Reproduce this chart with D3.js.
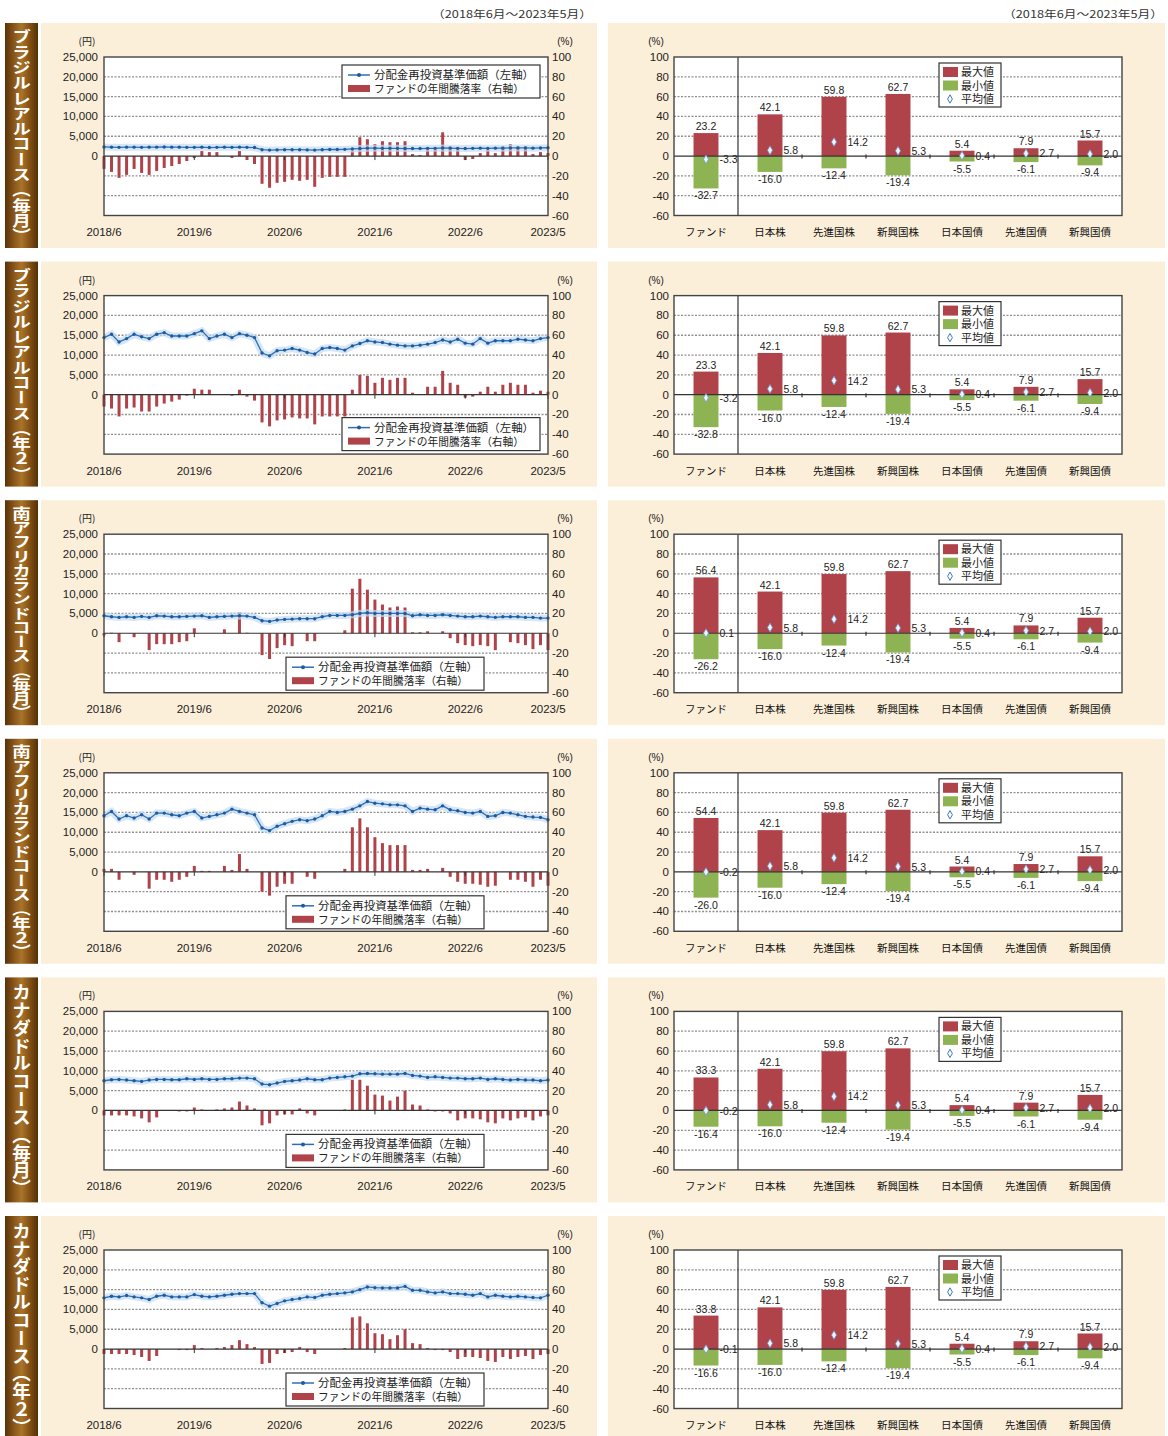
<!DOCTYPE html>
<html><head><meta charset="utf-8">
<script src="https://cdn.jsdelivr.net/npm/d3@7"></script>
<style>
html,body{margin:0;padding:0;background:#fff;}
svg{display:block;font-family:"Liberation Sans","Noto Sans CJK JP",sans-serif;}
</style></head><body>
<svg id="c" width="1168" height="1436"></svg>
<script>
// ---------- data ----------
const periodNote = "（2018年6月～2023年5月）";
const courseNames = ["ブラジルレアルコース（毎月）","ブラジルレアルコース（年２）","南アフリカランドコース（毎月）","南アフリカランドコース（年２）","カナダドルコース（毎月）","カナダドルコース（年２）"];
const xTickLabels = ["2018/6","2019/6","2020/6","2021/6","2022/6","2023/5"];
const yenTicks = [0,5000,10000,15000,20000,25000];
const pctTicks = [-60,-40,-20,0,20,40,60,80,100];
const legendNav = "分配金再投資基準価額（左軸）";
const legendRet = "ファンドの年間騰落率（右軸）";
const legendStats = ["最大値","最小値","平均値"];

const navBrlM = [2300,2250,2200,2250,2250,2200,2250,2250,2300,2250,2250,2200,2200,2250,2150,2200,2250,2200,2250,2200,2150,
 1600,1500,1550,1600,1600,1600,1550,1500,1600,1650,1650,1700,
 1800,1900,2000,2000,1950,1950,1950,1900,1900,1900,1950,1950,2050,2000,1950,1900,1950,2000,1950,2000,2000,2050,2050,2050,2000,2050,2100];
const navBrl2 = [14400,15250,13300,14150,15250,14600,14150,15250,15650,14800,14800,14800,15400,16100,14150,14800,15250,14400,15400,15000,14400,
 10500,9800,11100,11250,11650,11250,10650,10250,11650,11900,11650,11250,
 12300,12900,13600,13300,13150,12750,12500,12300,12300,12500,12750,13150,13800,13300,14000,13000,12750,14150,13000,13600,13600,13600,14000,13800,13600,14150,14400];
const navZarM = [4420,4170,4000,4170,4000,4250,4000,4420,4330,4170,4170,4250,4330,4420,4000,4170,4250,4330,4420,4330,4000,
 3170,3000,3330,3500,3580,3670,3670,3670,4170,4500,4500,4500,
 4670,5000,5170,5000,5000,5000,5000,5000,4420,4670,4500,4500,4670,4500,4330,4170,4170,4330,4170,4000,4170,4170,4170,4000,4000,3830,3830];
const navZar2 = [14160,15250,13330,14160,13580,14410,13330,14830,14830,14410,14160,14830,15250,13580,14000,14410,14830,15830,15250,14830,14410,
 11080,10410,11500,12160,12750,13160,12910,13330,14160,15250,15000,15250,
 15830,16660,17740,17330,17160,16910,16910,16660,15250,16080,15830,15660,16660,15660,15410,15000,14830,15250,14000,14160,15000,14830,14410,14000,13830,13740,13160];
const navCadM = [7500,7750,7830,7670,7500,7330,7670,7830,7830,7750,7750,8000,7830,8000,7830,7830,8000,8000,8170,8170,8000,
 6670,6500,6920,7330,7500,7670,8000,7750,7750,8170,8330,8500,
 8670,9250,9330,9250,9170,9170,9170,9330,8830,8670,8330,8500,8330,8170,8170,8000,8000,8170,7830,8000,7830,7670,7830,7670,7670,7500,7670];
const navCad2 = [12920,13330,13170,13500,13170,12920,12500,13330,13580,13170,13170,13170,13750,13330,13170,13330,13580,13830,14000,14000,14000,
 11670,10830,11500,12170,12500,12750,13170,13000,13580,13830,14000,14170,
 14420,15000,15670,15500,15420,15420,15420,15830,14830,14830,14420,14170,14420,14000,14000,13830,13580,14000,13170,13580,13330,13170,13330,13170,13000,12920,13580];

const retBrlM = [-13,-16,-22,-19,-13,-17,-19,-15,-12,-10,-8,-5,
 -2,5,4,4,0,-2,5,-4,-8,
 -28,-32,-27,-26,-24,-25,-24,-31,-22,-21,-21,-21,
 5,19,17,12,15,14,14,15,2,1,7,8,24,
 10,9,-4,-3,3,8,3,10,12,10,10,2,4,3];
const retBrl2 = [-12,-14,-22,-14,-13,-17,-17,-12,-9,-7,-5,-1,
 6,5,5,0,0,-1,5,-2,-6,
 -28,-32,-26,-25,-23,-24,-24,-30,-22,-22,-22,-22,
 5,20,19,12,17,15,17,17,2,0,8,8,24,
 12,10,-3,-2,3,8,3,10,12,10,10,2,4,3];
const retZarM = [-2,0.5,-9,0,-4,0,-17,-11,-11,-11,-9,-8,
 5,0,0,0,4,0,21,0.5,0,
 -22,-26,-15,-12,-13,0,-8,-8,0,0,0,3,
 45,55,44,34,29,26,27,26,1,1,2,0,2,
 -5,-10,-12,-13,-12,-13,-17,0,-9,-10,-12,-16,-12,-17];
const retZar2 = [3,3,-8,0,-3,0,-17,-8,-8,-10,-8,-5,
 6,1,1,0,6,2,18,3,0,
 -20,-24,-15,-12,-12,0,-5,-7,0,0,0,3,
 45,54,45,35,29,27,27,27,2,2,3,0,4,
 -5,-10,-12,-12,-13,-15,-14,0,-8,-8,-10,-15,-8,-14];
const retCadM = [-5,-5,-5,-5,-6,-8,-12,-7,0,0,-1,-1,
 3,1,0,1,2,3,9,5,2,
 -15,-13,-5,-4,-4,2,-3,-5,0,0,0,1,
 31,31,25,16,15,10,14,20,6,5,1,-1,-1,
 -3,-10,-8,-8,-9,-12,-13,-8,-10,-8,-7,-10,-6,-5];
const retCad2 = [-5,-5,-5,-5,-6,-8,-12,-7,0,0,-1,-1,
 4,1,0,1,2,4,9,5,2,
 -15,-14,-5,-4,-3,2,-3,-5,0,0,0,1,
 32,33,26,16,15,10,14,20,6,5,1,-1,-1,
 -3,-10,-8,-8,-9,-12,-13,-8,-10,-8,-7,-10,-6,-5];

const assetCategories = ["ファンド","日本株","先進国株","新興国株","日本国債","先進国債","新興国債"];
const assetMax = [42.1,59.8,62.7,5.4,7.9,15.7];
const assetMin = [-16.0,-12.4,-19.4,-5.5,-6.1,-9.4];
const assetAvg = [5.8,14.2,5.3,0.4,2.7,2.0];
const fundMax = [23.2,23.3,56.4,54.4,33.3,33.8];
const fundMin = [-32.7,-32.8,-26.2,-26.0,-16.4,-16.6];
const fundAvg = [-3.3,-3.2,0.1,-0.2,-0.2,-0.1];

const navSeries = [navBrlM,navBrl2,navZarM,navZar2,navCadM,navCad2];
const retSeries = [retBrlM,retBrl2,retZarM,retZar2,retCadM,retCad2];

// ---------- style ----------
const BEIGE = "#fcefd9", RED = "#b0434a", GREEN = "#8db352", BLUE = "#2f6fb5", TXT = "#222";
const GRID = "#8f8f8f";
const months = d3.timeMonths(new Date(2018,5,1), new Date(2023,5,1)).map(d3.timeFormat("%Y/%-m"));

const svg = d3.select("#c");
const defs = svg.append("defs");
const gr = defs.append("linearGradient").attr("id","brown").attr("x1","0").attr("x2","1").attr("y1","0").attr("y2","0");
[["0%","#5a3107"],["30%","#8d5a1b"],["50%","#a9742a"],["72%","#875416"],["100%","#553006"]].forEach(s=>gr.append("stop").attr("offset",s[0]).attr("stop-color",s[1]));

[592,1163].forEach(xr=>svg.append("text").attr("x",xr).attr("y",18).attr("text-anchor","end").attr("font-size",10.5)
  .attr("fill","#333").attr("font-family","Noto Sans CJK JP").attr("textLength",160).attr("lengthAdjust","spacingAndGlyphs").text(periodNote));

const PH = 225;
for (let r = 0; r < 6; r++) {
  const t = 23 + r*238.6;
  const g = svg.append("g");
  g.append("rect").attr("x",5).attr("y",t).attr("width",33).attr("height",PH).attr("fill","url(#brown)");
  g.append("rect").attr("x",41).attr("y",t).attr("width",556).attr("height",PH).attr("fill",BEIGE);
  g.append("rect").attr("x",608).attr("y",t).attr("width",557).attr("height",PH).attr("fill",BEIGE);

  // side label
  const lbl = g.append("text").attr("style","writing-mode:vertical-rl;")
    .attr("font-size",22).attr("font-weight","bold").attr("fill","#fff")
    .attr("font-family","Noto Sans CJK JP").text(courseNames[r]);
  const bb = lbl.node().getBBox();
  const sx = 27/bb.width, sy = 214/bb.height;
  lbl.attr("transform",`translate(${21.5 - sx*(bb.x+bb.width/2)},${t+6 - sy*bb.y}) scale(${sx},${sy})`);

  const y = d3.scaleLinear().domain([-60,100]).range([t+192.5, t+34]);
  const yL = d3.scaleLinear().domain([-15000,25000]).range([t+192.5, t+34]);
  const x = d3.scalePoint().domain(months).range([104,548]);

  // ---------- left chart ----------
  const L = g.append("g");
  L.append("rect").attr("x",104).attr("y",y(100)).attr("width",444).attr("height",y(-60)-y(100)).attr("fill","#fff");
  L.selectAll(".gl").data(pctTicks.filter(v=>v>-60&&v<100&&v!==0)).join("line")
    .attr("x1",104).attr("x2",548).attr("y1",d=>y(d)).attr("y2",d=>y(d))
    .attr("stroke",GRID).attr("stroke-width",1.3).attr("stroke-dasharray","2,1.5");
  L.selectAll(".bar").data(retSeries[r]).join("rect")
    .attr("x",(d,i)=>x(months[i])-1.5).attr("width",3)
    .attr("y",d=>y(Math.max(0,d))).attr("height",d=>Math.abs(y(d)-y(0)))
    .attr("fill",RED);
  L.append("line").attr("x1",104).attr("x2",548).attr("y1",y(0)).attr("y2",y(0)).attr("stroke","#333").attr("stroke-width",1.2);
  L.selectAll(".xt").data(xTickLabels).join("line")
    .attr("x1",d=>x(d)).attr("x2",d=>x(d)).attr("y1",y(0)).attr("y2",y(0)+4).attr("stroke","#333");
  const line = d3.line().x((d,i)=>x(months[i])).y(d=>yL(d));
  L.append("path").attr("d",line(navSeries[r])).attr("fill","none").attr("stroke","#c3dcf2").attr("stroke-width",7).attr("opacity",0.7);
  L.append("path").attr("d",line(navSeries[r])).attr("fill","none").attr("stroke",BLUE).attr("stroke-width",1.3);
  L.selectAll(".dot").data(navSeries[r]).join("circle")
    .attr("cx",(d,i)=>x(months[i])).attr("cy",d=>yL(d)).attr("r",1.7).attr("fill","#1e5a9e");
  L.append("rect").attr("x",104).attr("y",y(100)).attr("width",444).attr("height",y(-60)-y(100))
    .attr("fill","none").attr("stroke","#444").attr("stroke-width",1.4);
  // axes text
  L.selectAll(".yl").data(yenTicks).join("text").attr("x",98).attr("y",d=>yL(d)+4)
    .attr("text-anchor","end").attr("font-size",11.5).attr("fill",TXT).text(d3.format(","));
  L.append("text").attr("x",87).attr("y",t+22).attr("text-anchor","middle").attr("font-size",10).attr("fill",TXT).attr("font-family","Noto Sans CJK JP").text("(円)");
  L.selectAll(".yr").data(pctTicks).join("text").attr("x",552).attr("y",d=>y(d)+4)
    .attr("text-anchor","start").attr("font-size",11.5).attr("fill",TXT).text(d=>d);
  L.append("text").attr("x",565).attr("y",t+22).attr("text-anchor","middle").attr("font-size",10).attr("fill",TXT).text("(%)");
  L.selectAll(".xl").data(xTickLabels).join("text").attr("x",d=>x(d)).attr("y",t+213)
    .attr("text-anchor","middle").attr("font-size",11.5).attr("fill",TXT).text(d=>d);
  // legend
  const lx = r < 2 ? 342 : 286, ly = r === 0 ? t+42 : (r === 1 ? t+156 : t+157);
  const lg = L.append("g");
  lg.append("rect").attr("x",lx).attr("y",ly).attr("width",198).attr("height",33).attr("fill","#fff").attr("stroke","#333").attr("stroke-width",1.2);
  lg.append("line").attr("x1",lx+6).attr("x2",lx+28).attr("y1",ly+10).attr("y2",ly+10).attr("stroke",BLUE).attr("stroke-width",1.5);
  lg.append("circle").attr("cx",lx+17).attr("cy",ly+10).attr("r",2).attr("fill","#1e5a9e");
  lg.append("text").attr("x",lx+32).attr("y",ly+14).attr("font-size",11).attr("fill",TXT).attr("font-family","Noto Sans CJK JP")
    .attr("textLength",160).attr("lengthAdjust","spacingAndGlyphs").text(legendNav);
  lg.append("rect").attr("x",lx+6).attr("y",ly+20).attr("width",22).attr("height",7).attr("fill",RED);
  lg.append("text").attr("x",lx+32).attr("y",ly+28).attr("font-size",11).attr("fill",TXT).attr("font-family","Noto Sans CJK JP")
    .attr("textLength",150).attr("lengthAdjust","spacingAndGlyphs").text(legendRet);

  // ---------- right chart ----------
  const R = g.append("g");
  const xb = d3.scaleBand().domain(assetCategories).range([674,1122]).paddingInner(0.61).paddingOuter(0.305);
  const step = xb.step();
  const maxs = [fundMax[r], ...assetMax], mins = [fundMin[r], ...assetMin], avgs = [fundAvg[r], ...assetAvg];
  R.append("rect").attr("x",674).attr("y",y(100)).attr("width",448).attr("height",y(-60)-y(100)).attr("fill","#fff");
  R.selectAll(".gl").data(pctTicks.filter(v=>v>-60&&v<100&&v!==0)).join("line")
    .attr("x1",674).attr("x2",1122).attr("y1",d=>y(d)).attr("y2",d=>y(d))
    .attr("stroke",GRID).attr("stroke-width",1.3).attr("stroke-dasharray","2,1.5");
  R.selectAll(".mx").data(assetCategories).join("rect")
    .attr("x",d=>xb(d)).attr("width",xb.bandwidth()).attr("y",(d,i)=>y(maxs[i])).attr("height",(d,i)=>y(0)-y(maxs[i])).attr("fill",RED);
  R.selectAll(".mn").data(assetCategories).join("rect")
    .attr("x",d=>xb(d)).attr("width",xb.bandwidth()).attr("y",y(0)).attr("height",(d,i)=>y(mins[i])-y(0)).attr("fill",GREEN);
  R.append("line").attr("x1",674).attr("x2",1122).attr("y1",y(0)).attr("y2",y(0)).attr("stroke","#333").attr("stroke-width",1.2);
  R.selectAll(".bt").data(d3.range(2,7)).join("line")
    .attr("x1",k=>674+k*step).attr("x2",k=>674+k*step).attr("y1",y(0)-1.5).attr("y2",y(0)+2.5).attr("stroke","#333").attr("stroke-width",1.2);
  R.append("line").attr("x1",674+step).attr("x2",674+step).attr("y1",y(100)).attr("y2",y(-60)).attr("stroke","#333").attr("stroke-width",1.2);
  R.selectAll(".av").data(assetCategories).join("path")
    .attr("d",d3.symbol(d3.symbolDiamond,22)())
    .attr("transform",(d,i)=>`translate(${xb(d)+xb.bandwidth()/2},${y(avgs[i])})`)
    .attr("fill","#eef4fb").attr("stroke","#6b9bd0").attr("stroke-width",0.8);
  R.append("rect").attr("x",674).attr("y",y(100)).attr("width",448).attr("height",y(-60)-y(100))
    .attr("fill","none").attr("stroke","#444").attr("stroke-width",1.4);
  // value labels
  R.selectAll(".mxl").data(assetCategories).join("text")
    .attr("x",d=>xb(d)+xb.bandwidth()/2).attr("y",(d,i)=>y(maxs[i])-3)
    .attr("text-anchor","middle").attr("font-size",10.5).attr("fill",TXT).text((d,i)=>maxs[i].toFixed(1));
  R.selectAll(".mnl").data(assetCategories).join("text")
    .attr("x",d=>xb(d)+xb.bandwidth()/2).attr("y",(d,i)=>y(mins[i])+11)
    .attr("text-anchor","middle").attr("font-size",10.5).attr("fill",TXT).text((d,i)=>mins[i].toFixed(1));
  R.selectAll(".avl").data(assetCategories).join("text")
    .attr("x",d=>xb(d)+xb.bandwidth()+1).attr("y",(d,i)=>y(avgs[i])+4)
    .attr("text-anchor","start").attr("font-size",10.5).attr("fill",TXT).text((d,i)=>avgs[i].toFixed(1));
  // axes text
  R.selectAll(".yr").data(pctTicks).join("text").attr("x",669).attr("y",d=>y(d)+4)
    .attr("text-anchor","end").attr("font-size",11.5).attr("fill",TXT).text(d=>d);
  R.append("text").attr("x",656).attr("y",t+22).attr("text-anchor","middle").attr("font-size",10).attr("fill",TXT).text("(%)");
  R.selectAll(".xl").data(assetCategories).join("text").attr("x",d=>xb(d)+xb.bandwidth()/2).attr("y",t+213)
    .attr("text-anchor","middle").attr("font-size",10.5).attr("fill","#111").attr("font-family","Noto Sans CJK JP").text(d=>d);
  // legend
  const rg = R.append("g");
  rg.append("rect").attr("x",939).attr("y",t+40).attr("width",62).attr("height",44).attr("fill","#fff").attr("stroke","#333").attr("stroke-width",1.2);
  [RED,GREEN].forEach((c,i)=>rg.append("rect").attr("x",943).attr("y",t+44+i*13.5).attr("width",15).attr("height",10).attr("fill",c));
  rg.append("path").attr("d",d3.symbol(d3.symbolDiamond,20)()).attr("transform",`translate(950,${t+76})`).attr("fill","#fff").attr("stroke","#3a78c0").attr("stroke-width",1);
  rg.selectAll(".lt").data(legendStats).join("text").attr("x",961).attr("y",(d,i)=>t+53+i*13.5)
    .attr("font-size",11).attr("fill",TXT).attr("font-family","Noto Sans CJK JP").text(d=>d);
}
</script>
</body></html>
